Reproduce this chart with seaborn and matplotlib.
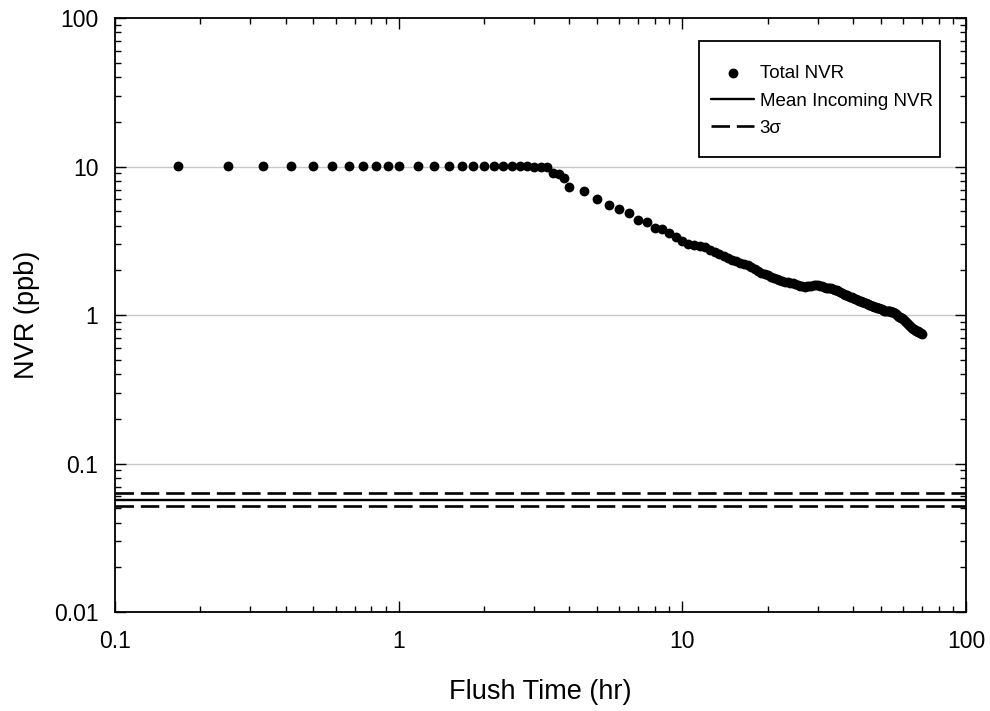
import numpy as np
import pandas as pd
import matplotlib
matplotlib.use("Agg")
import matplotlib.pyplot as plt
import matplotlib.ticker as mticker
from matplotlib.patches import Rectangle
import seaborn as sns

# ---------------- data ----------------
flush_time_hr = [
    0.1667, 0.25, 0.3333, 0.4167, 0.5, 0.5833, 0.6667, 0.75, 0.8333, 0.9167, 1.0,
    1.1667, 1.3333, 1.5, 1.6667, 1.8333, 2.0, 2.1667, 2.3333, 2.5, 2.6667, 2.8333,
    3.0, 3.1667, 3.3333, 3.5, 3.6667, 3.8333, 4.0,
    4.5, 5.0, 5.5, 6.0, 6.5, 7.0, 7.5, 8.0, 8.5, 9.0, 9.5, 10.0, 10.5,
    11.0, 11.5, 12.0, 12.5, 13.0, 13.5, 14.0, 14.5, 15.0, 15.5, 16.0, 16.5,
    17.0, 17.5, 18.0, 18.5, 19.0, 19.5, 20.0, 20.5, 21.0, 21.5, 22.0, 22.5,
    23.0, 23.5, 24.0, 24.5, 25.0, 25.5, 26.0, 26.5, 27.0, 27.5, 28.0, 28.5,
    29.0, 29.5, 30.0, 30.5, 31.0, 31.5, 32.0, 32.5, 33.0, 33.5, 34.0, 34.5,
    35.0, 35.5, 36.0, 36.5, 37.0, 37.5, 38.0, 38.5, 39.0, 39.5, 40.0, 40.5,
    41.0, 41.5, 42.0, 42.5, 43.0, 43.5, 44.0, 44.5, 45.0, 45.5, 46.0, 46.5,
    47.0, 47.5, 48.0, 48.5, 49.0, 49.5, 50.0, 50.5, 51.0, 51.5, 52.0, 52.5,
    53.0, 53.5, 54.0, 54.5, 55.0, 55.5, 56.0, 56.5, 57.0, 57.5, 58.0, 58.5,
    59.0, 59.5, 60.0, 60.5, 61.0, 61.5, 62.0, 62.5, 63.0, 63.5, 64.0, 64.5,
    65.0, 65.5, 66.0, 66.5, 67.0, 67.5, 68.0, 68.5, 69.0, 69.5, 70.0,
]
total_nvr_ppb = [
    10.1, 10.1, 10.1, 10.1, 10.1, 10.1, 10.1, 10.1, 10.1, 10.1, 10.1,
    10.1, 10.1, 10.1, 10.1, 10.1, 10.1, 10.1, 10.1, 10.1, 10.08, 10.05,
    10.0, 9.95, 9.85, 9.0, 8.86, 8.33, 7.31,
    6.87, 6.04, 5.48, 5.15, 4.84, 4.36, 4.25, 3.87, 3.79, 3.55, 3.34, 3.16, 3.0,
    2.96, 2.93, 2.85, 2.74, 2.65, 2.57, 2.49, 2.41, 2.35, 2.30, 2.25, 2.20,
    2.18, 2.10, 2.03, 1.98, 1.93, 1.90, 1.86, 1.81, 1.77, 1.74, 1.72, 1.70,
    1.68, 1.66, 1.65, 1.63, 1.61, 1.59, 1.57, 1.56, 1.55, 1.56, 1.57, 1.58,
    1.585, 1.59, 1.585, 1.58, 1.57, 1.55, 1.53, 1.52, 1.51, 1.52, 1.50, 1.48,
    1.47, 1.45, 1.43, 1.41, 1.39, 1.37, 1.36, 1.345, 1.33, 1.32, 1.305, 1.29,
    1.28, 1.265, 1.25, 1.24, 1.23, 1.22, 1.21, 1.20, 1.185, 1.175, 1.165, 1.155,
    1.145, 1.14, 1.13, 1.12, 1.115, 1.11, 1.10, 1.09, 1.08, 1.07, 1.065, 1.07,
    1.07, 1.065, 1.06, 1.055, 1.05, 1.04, 1.025, 1.01, 0.995, 0.985, 0.975, 0.965,
    0.955, 0.95, 0.945, 0.93, 0.91, 0.895, 0.88, 0.865, 0.85, 0.84, 0.83, 0.82,
    0.81, 0.80, 0.79, 0.785, 0.78, 0.775, 0.77, 0.765, 0.76, 0.755, 0.75,
]
mean_incoming_nvr = 0.057
three_sigma_bounds = [0.063, 0.052]

series_labels = ["Total NVR", "Mean Incoming NVR", "3\u03c3"]
x_label = "Flush Time (hr)"
y_label = "NVR (ppb)"
x_ticks = [0.1, 1, 10, 100]
x_tick_labels = ["0.1", "1", "10", "100"]
y_ticks = [0.01, 0.1, 1, 10, 100]
y_tick_labels = ["0.01", "0.1", "1", "10", "100"]

df = pd.DataFrame({"t": flush_time_hr, "nvr": total_nvr_ppb})

# ---------------- style ----------------
sns.set_style("ticks")
plt.rcParams["font.family"] = ["Liberation Sans", "DejaVu Sans"]
plt.rcParams["text.color"] = "black"
plt.rcParams["axes.labelcolor"] = "black"
plt.rcParams["xtick.color"] = "black"
plt.rcParams["ytick.color"] = "black"

fig = plt.figure(figsize=(9.9, 7.11), dpi=100)
ax = fig.add_axes([0.11616, 0.13924, 0.85960, 0.83544])

ax.set_xscale("log")
ax.set_yscale("log")
ax.set_xlim(0.1, 100)
ax.set_ylim(0.01, 100)

# gridlines at major y decades
for yv in y_ticks[1:-1]:
    ax.axhline(yv, color="#c8c8c8", lw=1.0, zorder=0)

sns.scatterplot(data=df, x="t", y="nvr", ax=ax, color="black", s=50,
                edgecolor="black", linewidth=0, label=series_labels[0], zorder=3)

ax.axhline(mean_incoming_nvr, color="black", lw=1.7, label=series_labels[1], zorder=2)
ax.axhline(three_sigma_bounds[0], color="black", lw=1.9, dashes=(7.0, 2.6),
           label=series_labels[2], zorder=2)
ax.axhline(three_sigma_bounds[1], color="black", lw=1.9, dashes=(7.0, 2.6),
           label="_nolegend_", zorder=2)

# ticks
ax.xaxis.set_major_locator(mticker.FixedLocator(x_ticks))
ax.xaxis.set_major_formatter(mticker.FixedFormatter(x_tick_labels))
ax.yaxis.set_major_locator(mticker.FixedLocator(y_ticks))
ax.yaxis.set_major_formatter(mticker.FixedFormatter(y_tick_labels))
ax.xaxis.set_minor_locator(mticker.LogLocator(base=10, subs=np.arange(2, 10)))
ax.yaxis.set_minor_locator(mticker.LogLocator(base=10, subs=np.arange(2, 10)))
ax.xaxis.set_minor_formatter(mticker.NullFormatter())
ax.yaxis.set_minor_formatter(mticker.NullFormatter())

ax.tick_params(which="both", direction="in", top=True, right=True,
               color="black", width=1.0, labelcolor="black")
ax.tick_params(which="major", length=8)
ax.tick_params(which="minor", length=4)
ax.tick_params(axis="x", which="major", labelsize=16.5, pad=13)
ax.tick_params(axis="y", which="major", labelsize=16.5, pad=12)

for sp in ax.spines.values():
    sp.set_visible(True)
    sp.set_color("black")
    sp.set_linewidth(1.3)

ax.set_xlabel(x_label, fontsize=19.5, labelpad=18.5, color="black")
ax.set_ylabel(y_label, fontsize=19.5, labelpad=10, color="black")

# legend: entries anchored near the right edge of a fixed box
leg = ax.legend(loc="center right", bbox_to_anchor=(0.961, 0.8603),
                borderaxespad=0, fontsize=13.5, frameon=False,
                handlelength=2.3, handletextpad=0.3, labelspacing=0.55,
                borderpad=0.0, markerscale=1.0)
for txt in leg.get_texts():
    txt.set_color("black")
box = Rectangle((0.6863, 0.7660), 0.9694 - 0.6863, 0.9613 - 0.7660,
                transform=ax.transAxes, facecolor="white", edgecolor="black",
                linewidth=1.3, zorder=4)
ax.add_patch(box)
leg.set_zorder(5)

fig.savefig("out.png", dpi=100)
